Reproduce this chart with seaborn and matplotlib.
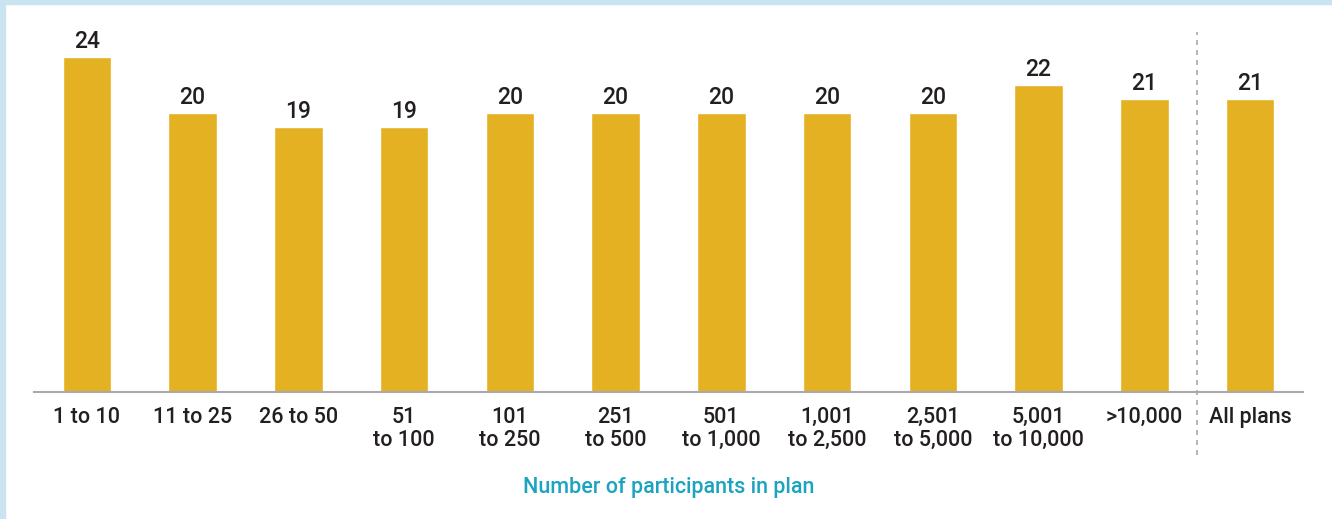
import matplotlib
matplotlib.use("Agg")
import matplotlib.pyplot as plt
import matplotlib.patches as mpatches
import seaborn as sns
import pandas as pd

categories = ["1 to 10", "11 to 25", "26 to 50", "51\nto 100", "101\nto 250",
              "251\nto 500", "501\nto 1,000", "1,001\nto 2,500", "2,501\nto 5,000",
              "5,001\nto 10,000", ">10,000", "All plans"]
values = [24, 20, 19, 19, 20, 20, 20, 20, 20, 22, 21, 21]
xlabel = "Number of participants in plan"

BAR = "#E4B122"
INK = "#231F20"
TEAL = "#1BA3C0"
FRAME = "#C9E4F0"

sns.set_theme(style="white")
plt.rcParams['font.family'] = ['Roboto', 'DejaVu Sans']

df = pd.DataFrame({"cat": categories, "val": values})

fig = plt.figure(figsize=(13.32, 5.19), dpi=100)
W, H = 1332, 519
ax = fig.add_axes([34 / W, 1 - 392 / H, (1303 - 34) / W, (392 - 30) / H])

sns.barplot(data=df, x="cat", y="val", color=BAR, width=0.46, ax=ax,
            saturation=1)

ymax = (392 - 30) / 13.96
ax.set_ylim(0, ymax)
ax.set_xlim(-0.5, len(categories) - 0.5)

for i, v in enumerate(values):
    ax.text(i, v + 0.3, str(v), ha="center", va="bottom", fontsize=16.5,
            fontweight="medium", color=INK)

for s in ["top", "right", "left"]:
    ax.spines[s].set_visible(False)
ax.spines["bottom"].set_color("#A7A9AC")
ax.spines["bottom"].set_linewidth(1.5)
ax.set_yticks([])
ax.set_ylabel("")
ax.tick_params(axis="x", length=0, pad=11, labelsize=15.5, labelcolor=INK)
for t in ax.get_xticklabels():
    t.set_fontweight("medium")
    t.set_linespacing(1.1)
ax.set_xlabel(xlabel, color=TEAL, fontsize=15.5, fontweight="medium", labelpad=19)

# dashed separator before "All plans"
sep = len(categories) - 1.5
ax.plot([sep, sep], [ymax * (392 - 455) / (392 - 30), ymax * (392 - 32) / (392 - 30)],
        ls=(0, (3, 3)), color="#A7A9AC", lw=1.2, clip_on=False)

# light blue frame on top and left
fig.patches.append(mpatches.Rectangle((0, 0), 5 / W, 1, transform=fig.transFigure,
                                      color=FRAME, zorder=0))
fig.patches.append(mpatches.Rectangle((0, 1 - 4 / H), 1, 4 / H, transform=fig.transFigure,
                                      color=FRAME, zorder=0))

fig.savefig("out.png", dpi=100)
